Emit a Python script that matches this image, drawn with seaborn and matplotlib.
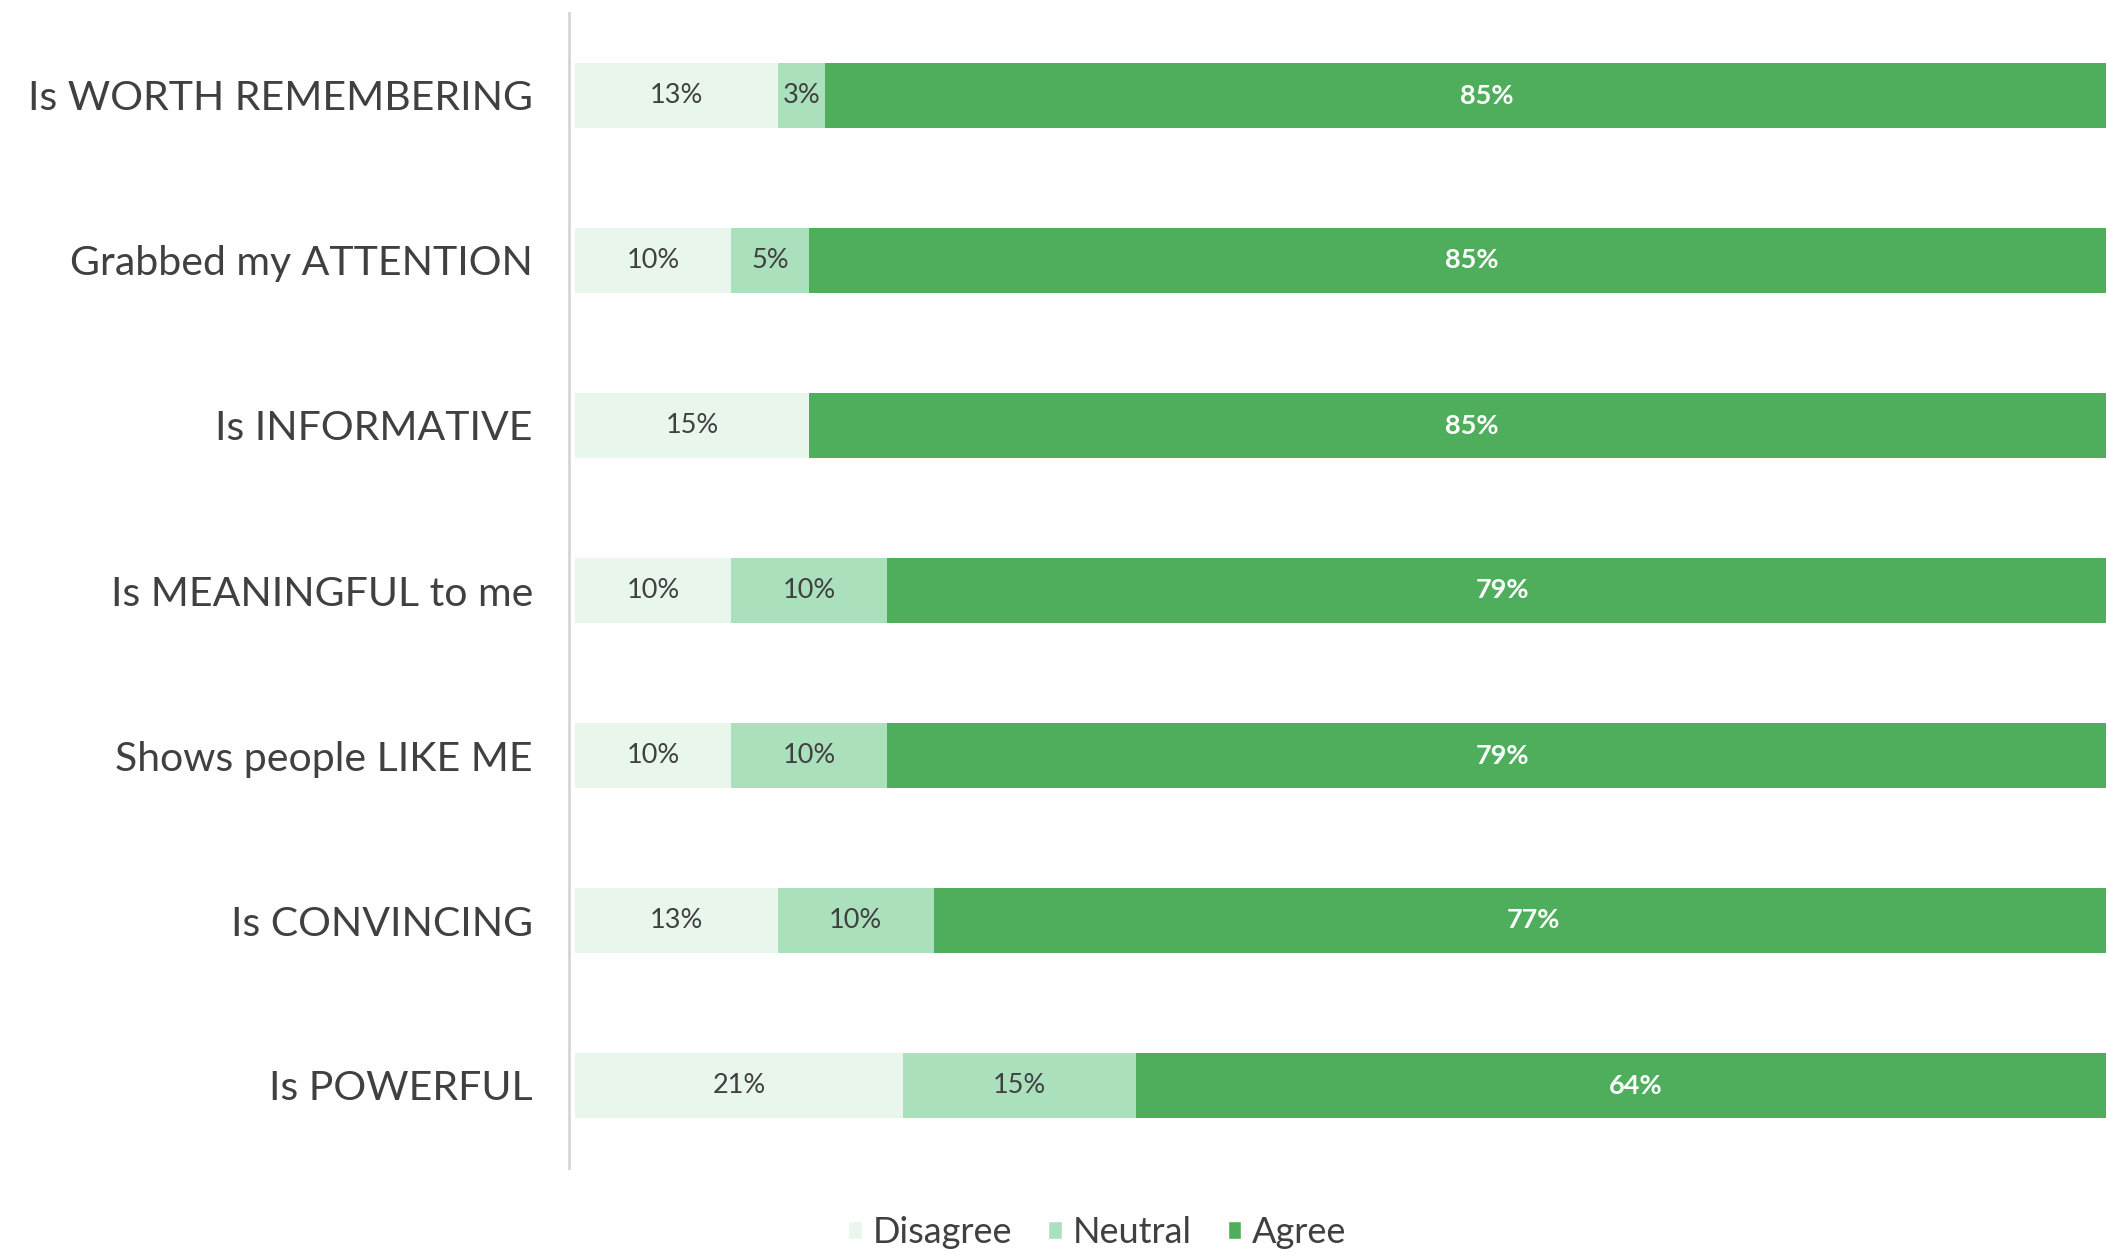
import matplotlib
matplotlib.use("Agg")
import matplotlib.pyplot as plt
import seaborn as sns
import pandas as pd
from matplotlib.patches import Patch

categories = [
    "Is WORTH REMEMBERING",
    "Grabbed my ATTENTION",
    "Is INFORMATIVE",
    "Is MEANINGFUL to me",
    "Shows people LIKE ME",
    "Is CONVINCING",
    "Is POWERFUL",
]
disagree = [13, 10, 15, 10, 10, 13, 21]
neutral = [3, 5, 0, 10, 10, 10, 15]
agree = [85, 85, 85, 79, 79, 77, 64]

c_disagree = "#e8f6ec"
c_neutral = "#abe0bd"
c_agree = "#4fae5c"
text_dark = "#404040"

sns.set_theme(style="white")
plt.rcParams["font.family"] = ["Lato", "DejaVu Sans"]

df = pd.DataFrame({
    "category": categories,
    "disagree": disagree,
    "neutral": neutral,
    "agree": agree,
})
df["cum_neutral"] = df["disagree"] + df["neutral"]
df["cum_agree"] = df["cum_neutral"] + df["agree"]

fig = plt.figure(figsize=(21.06, 12.56), dpi=100)
ax = fig.add_axes([569 / 2106, 1 - 1168 / 1256, 1 - 569 / 2106, (1168 - 13) / 1256])

# stacked bars: draw cumulative totals from widest to narrowest
for col, color in [("cum_agree", c_agree), ("cum_neutral", c_neutral), ("disagree", c_disagree)]:
    sns.barplot(data=df, x=col, y="category", orient="h", color=color,
                width=0.39, ax=ax, saturation=1, linewidth=0)

# segment labels
for i, row in df.iterrows():
    segs = [
        (0, row["disagree"], text_dark, "normal"),
        (row["disagree"], row["neutral"], text_dark, "normal"),
        (row["cum_neutral"], row["agree"], "white", "bold"),
    ]
    for left, width, tc, fw in segs:
        if width <= 0:
            continue
        ax.text(left + width / 2, i, f"{int(width)}%", ha="center", va="center",
                color=tc, fontsize=19.5, fontweight=fw)

ax.set_xlim(-0.4, 98.2)
ax.set_ylim(6.5, -0.5)
ax.set_xlabel("")
ax.set_ylabel("")
ax.set_xticks([])
ax.tick_params(axis="y", length=0, pad=26, labelsize=29.5, labelcolor=text_dark)
for s in ["top", "right", "bottom"]:
    ax.spines[s].set_visible(False)
ax.spines["left"].set_color("#d6d6d6")
ax.spines["left"].set_linewidth(2)

handles = [Patch(facecolor=c_disagree, label="Disagree"),
           Patch(facecolor=c_neutral, label="Neutral"),
           Patch(facecolor=c_agree, label="Agree")]
fig.legend(handles=handles, loc="center", bbox_to_anchor=(0.521, 0.019), ncol=3,
           frameon=False, fontsize=26, handlelength=0.38, handleheight=0.38,
           handletextpad=0.3, columnspacing=1.0, labelcolor=text_dark)

fig.savefig("out.png", dpi=100, facecolor="white")
